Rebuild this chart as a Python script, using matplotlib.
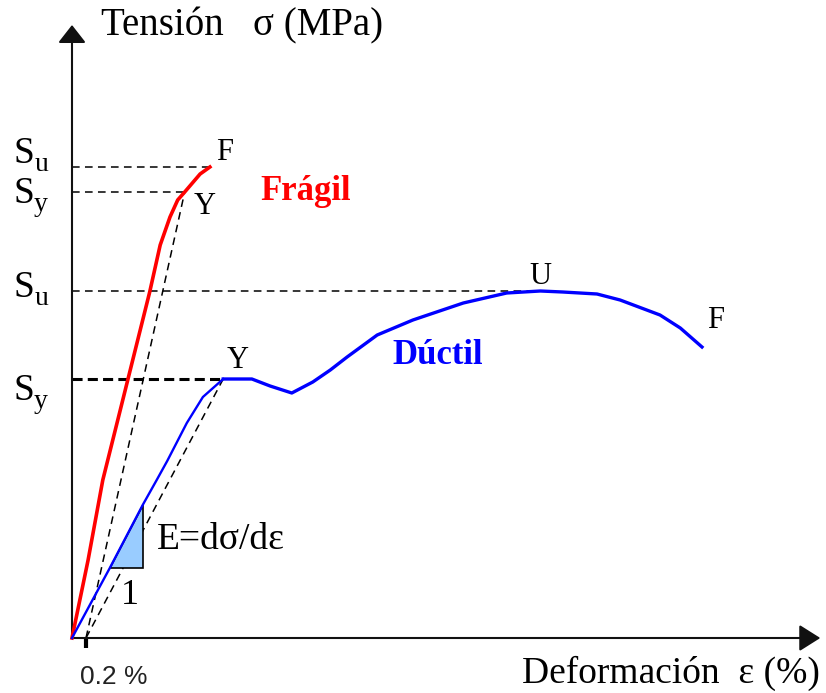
import matplotlib
matplotlib.use('Agg')
import matplotlib.pyplot as plt
from matplotlib.patches import Polygon

plt.rcParams['font.family'] = ['Liberation Serif', 'DejaVu Serif']

# curva material fragil (deformacion %, tension MPa)
fragil_def = [0, 0.23, 0.44, 0.80, 1.11, 1.26, 1.40, 1.51, 1.61, 1.83, 1.97]
fragil_ten = [0, 78, 158, 259, 346, 393, 421, 438, 446, 464, 471]

# curva material ductil
ductil_def = [0, 0.54, 1.01, 1.21, 1.36, 1.64, 1.87, 2.16, 2.57, 2.83, 3.14, 3.44,
              3.69, 3.93, 4.36, 4.87, 5.59, 6.21, 6.69, 7.01, 7.50, 7.83, 8.40, 8.69, 9.00]
ductil_ten = [0, 70, 133, 158, 177, 215, 241, 259, 259, 252, 245, 256,
              268, 281, 303, 318, 335, 345, 347, 346, 344, 338, 323, 310, 291]
iY = 7  # indice del punto Y en la curva ductil

# puntos caracteristicos
Su_f, Sy_f = 471, 446
Yf_def, Ff_def = 1.61, 1.97
Su_d, Sy_d = 347, 259
Yd_def, Ud_def = 2.16, 6.69
offset = 0.2   # 0.2 %

# triangulo del modulo E
tri_def = [0.54, 1.01]
tri_ten = [70, 133]

fig = plt.figure(figsize=(8.26, 6.93), dpi=100)
ax = fig.add_axes([0, 0, 1, 1])
ax.set_xlim(-72 / 70, 754 / 70)
ax.set_ylim(-55, 638)
ax.axis('off')

# ejes con flechas
ax.annotate('', xy=(0, 613), xytext=(0, 0),
            arrowprops=dict(arrowstyle='-|>,head_length=0.55,head_width=0.43',
                            mutation_scale=20, lw=1.5, color='#111', shrinkA=0, shrinkB=0))
ax.annotate('', xy=(10.69, 0), xytext=(0, 0),
            arrowprops=dict(arrowstyle='-|>,head_length=0.65,head_width=0.41',
                            mutation_scale=20, lw=1.5, color='#111', shrinkA=0, shrinkB=0))
ax.plot([offset, offset], [0, -10], color='k', lw=3, solid_capstyle='butt')

dash = (0, (5, 3.5))
ax.plot([0, Ff_def], [Su_f, Su_f], color='k', lw=1.1, ls=dash)
ax.plot([0, Yf_def], [Sy_f, Sy_f], color='k', lw=1.1, ls=dash)
ax.plot([0, Ud_def], [Su_d, Su_d], color='k', lw=1.1, ls=dash)
ax.plot([0, Yd_def], [Sy_d, Sy_d], color='k', lw=2.2, ls=(0, (3.3, 1.7)))
ax.plot([offset, Yf_def], [0, Sy_f], color='k', lw=1.1, ls=dash)
ax.plot([offset, Yd_def], [0, Sy_d], color='k', lw=1.1, ls=dash)

tri = Polygon([(tri_def[0], tri_ten[0]), (tri_def[1], tri_ten[0]), (tri_def[1], tri_ten[1])],
              closed=True, facecolor='#99ccff', edgecolor='k', lw=1.2, zorder=2)
ax.add_patch(tri)

ax.plot(fragil_def, fragil_ten, color='#ff0000', lw=2.6, zorder=3)
ax.plot(ductil_def[:iY + 1], ductil_ten[:iY + 1], color='#0000ff', lw=1.7, zorder=3)
ax.plot(ductil_def[iY:], ductil_ten[iY:], color='#0000ff', lw=2.4, zorder=3)

# textos
ax.text(0.42, 612, 'Tensión   σ (MPa)', fontsize=28, ha='left', va='center')
ax.text(10.69, -35, 'Deformación  ε (%)', fontsize=27, ha='right', va='center')
ax.text(0.6, -39, '0.2 %', fontsize=19, ha='center', va='center',
        family='Liberation Sans', color='#222')


def s_label(ten, sub):
    ax.text(-0.68, ten, 'S', fontsize=27, ha='center', va='baseline')
    ax.annotate(sub, xy=(-0.68, ten), xytext=(12, -6), textcoords='offset points',
                fontsize=20, ha='center', va='baseline')


s_label(475, 'u')
s_label(435, 'y')
s_label(341, 'u')
s_label(238, 'y')

ax.text(2.18, 486, 'F', fontsize=22, ha='center', va='center')
ax.text(1.90, 432, 'Y', fontsize=22, ha='center', va='center')
ax.text(2.37, 278, 'Y', fontsize=22, ha='center', va='center')
ax.text(6.69, 361, 'U', fontsize=22, ha='center', va='center')
ax.text(9.20, 317, 'F', fontsize=22, ha='center', va='center')

ax.text(3.34, 447, 'Frágil', fontsize=25, fontweight='bold', color='#ff0000',
        ha='center', va='center')
ax.text(5.23, 283, 'Dúctil', fontsize=25, fontweight='bold', color='#0000ff',
        ha='center', va='center')

ax.text(1.21, 98, 'E=dσ/dε', fontsize=27, ha='left', va='center')
ax.text(0.83, 42, '1', fontsize=26, ha='center', va='center')

fig.savefig('out.png', dpi=100)
